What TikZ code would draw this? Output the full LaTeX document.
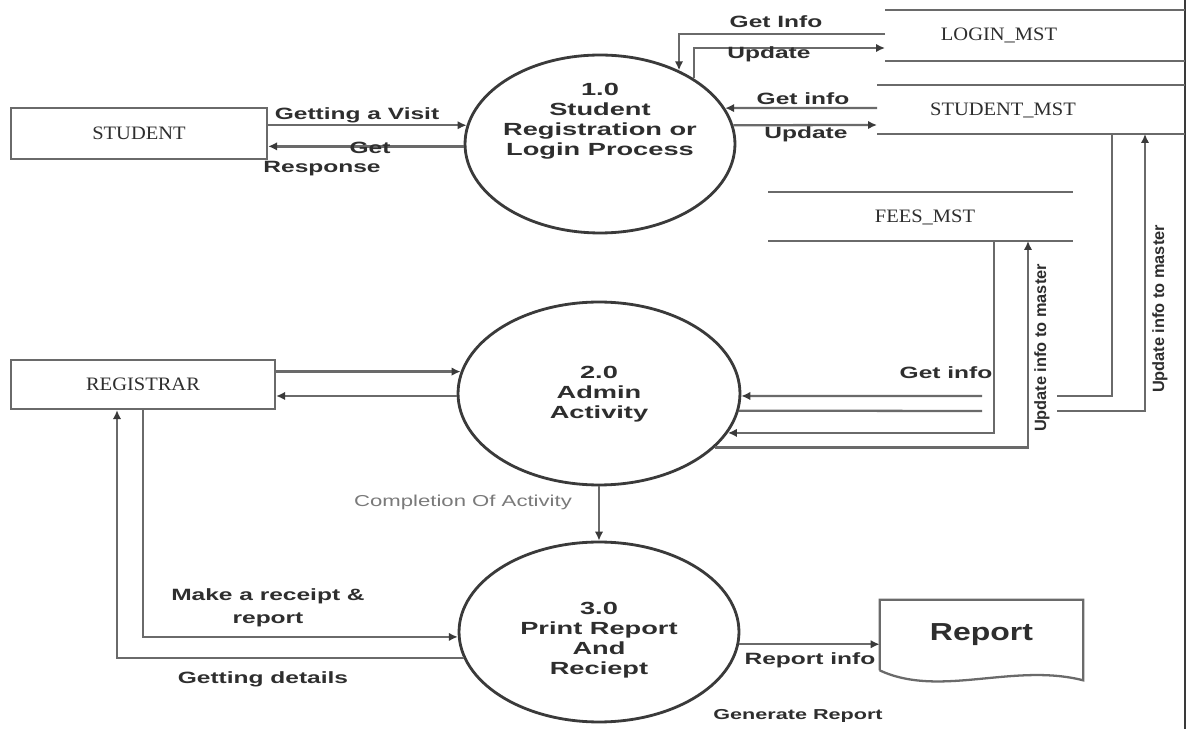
\documentclass[tikz,border=0pt]{standalone}
\usepackage{fontspec}
\usetikzlibrary{shapes.geometric,arrows.meta,calc}
\newfontfamily\flowfont{Liberation Sans}[FakeStretch=1.5]
\newfontfamily\bubblefont{Liberation Sans}[FakeStretch=1.55]
\newfontfamily\storefont{Liberation Serif}[FakeStretch=1.08]
\newfontfamily\notefont{Liberation Sans}[FakeStretch=1.4]
\newfontfamily\docfont{Liberation Sans}[FakeStretch=1.3]
\newfontfamily\sidefont{Liberation Sans}
\definecolor{ink}{HTML}{2E2E2E}
\definecolor{wirec}{HTML}{6A6A6A}
\definecolor{rimc}{HTML}{3A3A3A}
\definecolor{notec}{HTML}{7A7A7A}

\begin{document}
\begin{tikzpicture}[x=0.02cm,y=-0.02cm,
  wire/.style={draw=wirec,line width=1.3pt},
  flow/.style={wire,-{Latex[length=0.18cm,width=0.17cm,color=rimc]}},
  proc/.style={ellipse,draw=rimc,line width=1.6pt,inner sep=0pt},
  entity/.style={rectangle,draw=wirec,line width=1.3pt,inner sep=0pt,text=ink,
    font=\storefont\fontsize{10.8}{13}\selectfont},
  storename/.style={text=ink,inner sep=0pt,font=\storefont\fontsize{10.8}{13}\selectfont},
  storeline/.style={draw=wirec,line width=1.3pt},
  bubbletext/.style={text=ink,align=center,inner sep=0pt,
    font=\bubblefont\bfseries\fontsize{10}{11.4}\selectfont},
  lbl/.style={text=ink,align=center,inner sep=0pt,
    font=\flowfont\bfseries\fontsize{9.3}{12.8}\selectfont},
  smalllbl/.style={lbl,font=\flowfont\bfseries\fontsize{8.2}{10}\selectfont},
  sidelbl/.style={text=ink,rotate=90,fill=white,inner sep=1pt,
    font=\sidefont\bfseries\fontsize{9.3}{11}\selectfont},
  note/.style={text=notec,inner sep=0pt,font=\notefont\fontsize{9}{11}\selectfont},
]
\useasboundingbox (0,0) rectangle (1188,729);
\fill[white] (0,0) rectangle (1188,729);

% page edge on the right
\draw[rimc,line width=1pt] (1185,0) -- (1185,729);

% external entities
\node[entity,minimum width=5.12cm,minimum height=1.02cm] (student) at (139,133.5) {STUDENT\hspace{0.84cm}};
\node[entity,minimum width=5.28cm,minimum height=0.98cm] (registrar) at (143,384.5) {REGISTRAR\hspace{0.44cm}};

% processes
\node[proc,minimum width=5.4cm,minimum height=3.56cm] (e1) at (600,144) {};
\node[bubbletext] (e1t) at (600,121.5) {1.0\\Student\\Registration or\\Login Process};
\node[proc,minimum width=5.64cm,minimum height=3.66cm] (e2) at (599,393.5) {};
\node[bubbletext] (e2t) at (599,394.5) {2.0\\Admin\\Activity};
\node[proc,minimum width=5.6cm,minimum height=3.6cm] (e3) at (599,632) {};
\node[bubbletext] (e3t) at (599,640) {3.0\\Print Report\\And\\Reciept};

% data stores
\draw[storeline] (885,10) -- (1185,10) (885,61) -- (1185,61);
\node[storename] (login) at (999,35) {LOGIN\_MST};
\draw[storeline] (877,85) -- (1185,85) (877,134) -- (1185,134);
\node[storename] (smst) at (1003,110) {STUDENT\_MST};
\draw[storeline] (768,192) -- (1073,192) (768,241) -- (1073,241);
\node[storename] (fees) at (925,217) {FEES\_MST};

% report document with a wavy lower edge
\node[inner sep=0pt,minimum width=4.06cm,minimum height=1.4cm,text=ink,
  font=\docfont\bfseries\fontsize{14}{16}\selectfont] (report) at (981.5,635) {Report};
\draw[wire] (report.south west) -- (report.north west) -- (report.north east)
  -- ($(report.south east)+(0,10)$)
  .. controls +(-70,-18) and +(60,28) .. (report.south west);

% ports on the store edges
\coordinate (loginGet) at (885,34);
\coordinate (loginPut) at (885,48);
\coordinate (smstGetA) at (877,108);
\coordinate (smstPutA) at (877,125);
\coordinate (smstGetB) at (1112,134);
\coordinate (smstPutB) at (1145,134);
\coordinate (feesGet) at (994,241);
\coordinate (feesPut) at (1028,241);
\coordinate (gapGetR) at (1057,396);
\coordinate (gapGetL) at (982,396);
\coordinate (gapPutR) at (1057,411);
\coordinate (gapPutL) at (982,411);

% student and process 1.0
\draw[flow] (e1.172.7 -| student.east) -- (e1.172.7);
\draw[flow] (e1.181.7) -- (e1.181.7 -| student.east);
% process 1.0 and its stores
\draw[flow] (loginGet) -| (e1.43.5);
\draw[flow] (e1.35.8) |- (loginPut);
\draw[flow] (smstGetA) -- (e1.16.25);
\draw[flow] (e1.8.2) -- (smstPutA);

% registrar and process 2.0
\draw[flow] (e2.171.5 -| registrar.east) -- (e2.171.5);
\draw[flow] (e2.181.8) -- (e2.181.8 -| registrar.east);
% process 2.0 and the stores
\draw[wire] (smstGetB) |- (gapGetR);
\draw[flow] (gapGetL) -- (e2.-1.0);
\draw[wire] (e2.-7.2) -- (gapPutL);
\draw[flow] (gapPutR) -| (smstPutB);
\draw[flow] (feesGet) |- (e2.-17.25);
\draw[flow] (e2.-25.7) -| (feesPut);

% process 2.0 to 3.0
\draw[flow] (e2.south) -- (e3.north);
% registrar and process 3.0
\draw[flow] (registrar.south) |- (e3.182.0);
\draw[flow] (e3.191.9) -| ($(registrar.south)+(-26,0)$);
% process 3.0 to the report
\draw[flow] (e3.-5.8) -- (e3.-5.8 -| report.west);

% flow labels
\node[lbl] at (357,115) {Getting a Visit};
\node[lbl] at (370,148) {Get};
\node[lbl] at (322,169) {Response};
\node[lbl] at (776,22) {Get Info};
\node[lbl] at (769,54) {Update};
\node[lbl] at (803,99) {Get info};
\node[lbl] at (806,134) {Update};
\node[lbl] at (946,373) {Get info};
\node[sidelbl] at (1042,348) {Update info to master};
\node[sidelbl] at (1160,309) {Update info to master};
\node[note] at (463,502) {Completion Of Activity};
\node[lbl] at (268,608) {Make a receipt \&\\report};
\node[lbl] at (263,679) {Getting details};
\node[lbl] at (810,660) {Report info};
\node[smalllbl] at (798,716) {Generate Report};
\end{tikzpicture}
\end{document}
